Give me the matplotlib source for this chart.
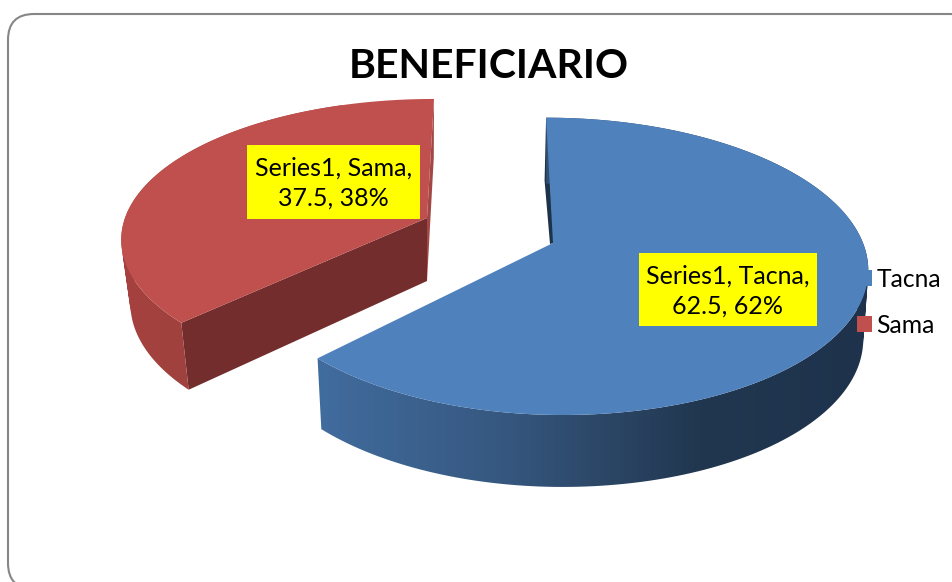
import numpy as np
import matplotlib
matplotlib.use("Agg")
import matplotlib.pyplot as plt
from matplotlib.patches import Polygon, FancyBboxPatch, Patch, PathPatch
from matplotlib.path import Path
from matplotlib.colors import to_rgb

categories = ["Tacna", "Sama"]
values = [62.5, 37.5]
percents = ["62%", "38%"]
series_name = "Series1"
title = "BENEFICIARIO"

plt.rcParams["font.family"] = ["Lato", "DejaVu Sans"]
fig = plt.figure(figsize=(9.53, 5.82), dpi=100)
ax = fig.add_axes([0, 0, 1, 1])
ax.set_xlim(0, 953)
ax.set_ylim(582, 0)
ax.axis("off")

ax.add_patch(FancyBboxPatch((8, 14), 968, 575, boxstyle="round,pad=0,rounding_size=26",
                            fc="white", ec="#868686", lw=1.5, zorder=0))


def project(theta, g):
    """Perspective view of a point on the pie rim; theta clockwise from 12 o'clock."""
    u, v = np.sin(theta), np.cos(theta)
    w = 1 + g["q"] * v
    rx = np.where(u < 0, g["rx_left"], g["rx_right"])
    x = g["rim_cx"] + (rx * u + g["s"] * v) / w
    y = g["cy"] - g["ry"] * v / w
    return x, y


def drop(x, y, g):
    """Lower rim of the pie, below an upper rim point."""
    return g["cx"] + (x - g["cx"]) * g["shrink"], y + g["d0"] + g["d1"] * (y - g["cy"]) / 100


def ramp_image(xs, stops):
    cols = np.array([to_rgb(c) for _, c in stops])
    pos = [p for p, _ in stops]
    return np.dstack([np.interp(xs, pos, cols[:, i]) for i in range(3)])


def swept_wall(x, y, xb, yb):
    """Union of the quads between the upper and lower rim, all wound the same way."""
    verts, codes = [], []
    for k in range(len(x) - 1):
        q = [(x[k], y[k]), (x[k + 1], y[k + 1]), (xb[k + 1], yb[k + 1]), (xb[k], yb[k])]
        a = sum(q[n][0] * q[(n + 1) % 4][1] - q[(n + 1) % 4][0] * q[n][1] for n in range(4))
        if a < 0:
            q = q[::-1]
        verts += q + [q[0]]
        codes += [Path.MOVETO, Path.LINETO, Path.LINETO, Path.LINETO, Path.CLOSEPOLY]
    return Path(verts, codes)


geom = {
    "Tacna": dict(cx=553, rim_cx=553, cy=243, q=0.157, ry=145, rx_right=310, rx_left=304, s=-8, warp=0,
                  shrink=0.984, d0=68.5, d1=2,
                  face="#4F81BD", cut="#1D3349", z=2,
                  side=[(318, "#416C9E"), (500, "#365880"), (600, "#2C4767"), (700, "#213750"), (867, "#1E324C")]),
    "Sama": dict(cx=427, rim_cx=434, cy=218, q=0.155, ry=137.5, rx_right=309, rx_left=309, s=0, warp=2,
                 shrink=0.97, d0=63, d1=3.7,
                 face="#C0504D", cut="#722D2C", z=3,
                 side=[(121, "#A6423F"), (190, "#9F413E")]),
}

fractions = np.cumsum([0] + values) / sum(values) * 2 * np.pi

for i, name in enumerate(categories):
    g = geom[name]
    t0, t1 = fractions[i], fractions[i + 1]
    th = np.linspace(t0, t1, 181)
    x, y = project(th + np.radians(g["warp"]) * (t1 - th) / (t1 - t0), g)
    xb, yb = drop(x, y, g)
    z = g["z"]
    cx, cy = g["cx"], g["cy"]
    cxb, cyb = drop(np.array(cx, float), np.array(cy, float), g)

    if name == "Tacna":
        # sliver of the cut face along 12 o'clock
        ax.add_patch(Polygon([(x[0], y[0]), (x[0] - 1.5, y[0] + 63), (cx - 3, cy + 1), (cx + 1, cy)],
                             closed=True, fc=g["cut"], ec="none", zorder=z))
    else:
        ax.add_patch(Polygon([(x[-1], y[-1]), (cx, cy), (cxb, cyb), (xb[-1], yb[-1])],
                             closed=True, fc="#A34745", ec="none", zorder=z))
        ax.add_patch(Polygon([(cx, cy), (x[0], y[0]), (xb[0], yb[0]), (cxb, cyb)],
                             closed=True, fc=g["cut"], ec="none", zorder=z + 0.1))

    # outer wall: horizontal colour ramp clipped to the swept wall outline
    keep = th <= np.radians(340) if name == "Sama" else np.ones_like(th, bool)
    wall = PathPatch(swept_wall(x[keep], y[keep], xb[keep], yb[keep]), fc="none", ec="none",
                     transform=ax.transData)
    ax.add_patch(wall)
    x_lo, x_hi = min(x[keep].min(), xb[keep].min()) - 2, max(x[keep].max(), xb[keep].max()) + 2
    y_lo, y_hi = min(y[keep].min(), yb[keep].min()) - 2, max(y[keep].max(), yb[keep].max()) + 2
    img = ax.imshow(ramp_image(np.linspace(x_lo, x_hi, 256)[None, :], g["side"]),
                    extent=(x_lo, x_hi, y_hi, y_lo), aspect="auto", zorder=z + 0.2,
                    interpolation="bilinear")
    img.set_clip_path(wall)

    ax.add_patch(Polygon(np.r_[[(cx, cy)], np.c_[x, y]], closed=True, fc=g["face"], ec="none", zorder=z + 0.3))

ax.set_xlim(0, 953)
ax.set_ylim(582, 0)

label_pos = {"Tacna": (728, 291), "Sama": (333.5, 183)}
box_ext = {"Tacna": (639, 253, 817, 326), "Sama": (247, 145, 420, 219)}
for name, val, pct in zip(categories, values, percents):
    x0, y0, x1, y1 = box_ext[name]
    ax.fill_between([x0, x1], y0, y1, color="#FFFF00", lw=0, zorder=6)
    ax.text(*label_pos[name], f"{series_name}, {name},\n{val}, {pct}", ha="center", va="center",
            fontsize=18, color="black", linespacing=1.33, zorder=7)

ax.text(489, 66.5, title, ha="center", va="center", fontsize=29.5, fontweight="bold", color="black", zorder=7)

handles = [Patch(fc=geom[n]["face"], ec="none", label=n) for n in categories]
leg = ax.legend(handles=handles, loc="upper left", bbox_to_anchor=(857, 268), bbox_transform=ax.transData,
                frameon=False, fontsize=17.7, handlelength=0.61, handleheight=0.61, handletextpad=0.17,
                labelspacing=0.92, borderpad=0, borderaxespad=0, labelcolor="black")
leg.set_zorder(8)

fig.savefig("out.png", dpi=100)
